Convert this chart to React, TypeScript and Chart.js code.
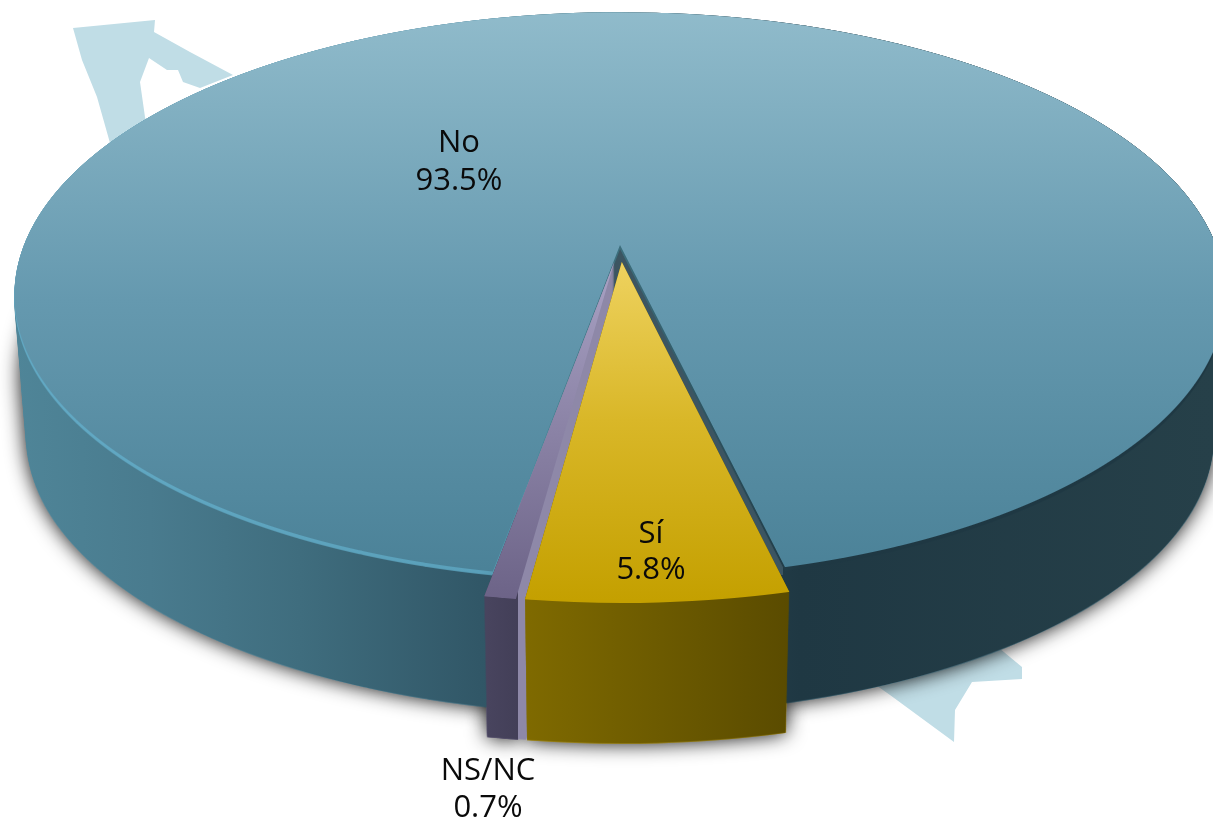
import React, { useEffect, useRef } from "react";
import { Chart, registerables } from "chart.js";

Chart.register(...registerables);

const categories = ["No", "Sí", "NS/NC"];
const shares = [93.5, 5.8, 0.7];
const pulledOut = [0, 0.0613, 0.0613];
const baseColors = ["#5f97ad", "#d4b020", "#6f6688"];

const W = 1213, H = 822, OFF_W = 1330;
// perspective of the tilted disc (unit circle -> screen)
const AX = 620, AY = 245, KX = 596, QY = 274, PY = -0.1767;
const DEPTH = 143, SHRINK = 0.02;
const extraDepth = [0, 5, 5];

type Stops = [number, string][];
const topStops: Stops[] = [
  [[12, "#90bbcb"], [300, "#6599af"], [580, "#4a8197"]],
  [[262, "#eed25f"], [420, "#d9b728"], [600, "#c4a000"]],
  [[262, "#a9a2c4"], [600, "#6c6387"]],
];
const wallStops: Stops[] = [
  [[15, "#4f8598"], [150, "#497b8e"], [300, "#3f6d7e"], [480, "#315767"], [620, "#2a4958"], [800, "#1f3843"], [1213, "#264049"]],
  [[525, "#7f6a00"], [790, "#5a4b00"]],
  [[487, "#48445e"], [517.5, "#433f58"], [518, "#8e88a8"], [700, "#8e88a8"]],
];
const rimStops: Stops = [[15, "#62a9c4"], [480, "#5aa0ba"], [560, "#46808f"], [800, "#1f3843"]];
const cutFace: Stops = [[0, "#3c5561"], [H, "#3c5561"]];
const sideFace: Stops = [[0, "#8e88a8"], [H, "#8e88a8"]];
const mapParts: number[][][] = [
  [[73, 28], [155, 20], [154, 32], [190, 52], [233, 75], [200, 88], [183, 82], [178, 70], [167, 70], [149, 58], [140, 82], [145, 117], [150, 135], [110, 150], [110, 143], [97, 97], [82, 60]],
  [[900, 640], [993, 643], [1022, 667], [1022, 679], [972, 682], [955, 710], [954, 742], [890, 695], [873, 683]],
];

function mk(): { c: HTMLCanvasElement; x: CanvasRenderingContext2D } {
  const c = document.createElement("canvas");
  c.width = OFF_W;
  c.height = H;
  return { c, x: c.getContext("2d") as CanvasRenderingContext2D };
}

function silhouette(el: any, pull: number): HTMLCanvasElement {
  const { c, x } = mk();
  const R = el.outerRadius;
  const mid = (el.startAngle + el.endAngle) / 2;
  for (let Y = 0; Y < H; Y++) {
    const yp = Y + 0.5 - AY;
    const y = yp / (QY - PY * yp);
    if (y < -1.15 || y > 1.2) continue;
    const w = 1 + PY * y;
    const sx = KX / (w * R);
    const sy = QY / (w * w * R);
    x.save();
    x.setTransform(1, 0, 0, 1, 0, 0);
    x.beginPath();
    x.rect(0, Y, OFF_W, 1);
    x.clip();
    x.setTransform(sx, 0, 0, sy, AX - sx * el.x, Y + 0.5 - sy * el.y - (QY / (w * w)) * y);
    x.translate(Math.cos(mid) * pull * R, Math.sin(mid) * pull * R);
    el.draw(x);
    x.restore();
  }
  return c;
}

function tint(src: HTMLCanvasElement, stops: Stops, vertical: boolean): HTMLCanvasElement {
  const { c, x } = mk();
  x.drawImage(src, 0, 0);
  const first = stops[0][0], last = stops[stops.length - 1][0];
  const g = vertical ? x.createLinearGradient(0, first, 0, last) : x.createLinearGradient(first, 0, last, 0);
  stops.forEach(([p, col]) => g.addColorStop((p - first) / (last - first), col));
  x.globalCompositeOperation = "source-in";
  x.fillStyle = g;
  x.fillRect(0, 0, OFF_W, H);
  return c;
}

function extrude(src: HTMLCanvasElement, from: number, to: number): HTMLCanvasElement {
  const { c, x } = mk();
  for (let d = to; d >= from; d--) {
    const s = 1 - (SHRINK * d) / DEPTH;
    x.setTransform(s, 0, 0, s, AX * (1 - s), AY * (1 - s) + d);
    x.drawImage(src, 0, 0);
  }
  return c;
}

const disc3d = {
  id: "disc3d",
  beforeDatasetsDraw(chart: any) {
    const ctx: CanvasRenderingContext2D = chart.ctx;
    const arcs = chart.getDatasetMeta(0).data;
    const masks = arcs.map((el: any, i: number) => silhouette(el, pulledOut[i]));
    const solids = masks.map((m: HTMLCanvasElement, i: number) => extrude(m, 0, DEPTH + extraDepth[i]));

    // background map
    ctx.save();
    ctx.fillStyle = "#c0dde6";
    mapParts.forEach((part) => {
      ctx.beginPath();
      part.forEach(([a, b], i) => (i ? ctx.lineTo(a, b) : ctx.moveTo(a, b)));
      ctx.closePath();
      ctx.fill();
    });
    ctx.restore();

    // soft shadow of the lower part of every piece
    ctx.save();
    ctx.shadowColor = "rgba(0,0,0,0.95)";
    ctx.shadowBlur = 20;
    masks.forEach((m: HTMLCanvasElement, i: number) => ctx.drawImage(extrude(m, DEPTH * 0.55, DEPTH + extraDepth[i]), 0, 0));
    ctx.restore();

    // main slice
    ctx.drawImage(tint(solids[0], wallStops[0], false), 0, 0);
    ctx.save();
    ctx.beginPath();
    ctx.rect(600, 240, 183, 335);
    ctx.clip();
    ctx.drawImage(tint(solids[0], cutFace, true), 0, 0);
    ctx.restore();
    ctx.drawImage(tint(extrude(masks[0], 0, 4), rimStops, false), 0, 0);
    ctx.drawImage(tint(masks[0], topStops[0], true), 0, 0);

    // lighter cut face of the small slice, carried down its side
    ctx.save();
    ctx.beginPath();
    ctx.rect(0, 600, W, H - 600);
    ctx.clip();
    ctx.drawImage(tint(solids[2], sideFace, true), 8, 0);
    ctx.restore();
    ctx.drawImage(tint(solids[2], wallStops[2], false), 0, 0);
    ctx.drawImage(tint(masks[2], topStops[2], true), 0, 0);

    // Sí slice
    ctx.drawImage(tint(solids[1], wallStops[1], false), 0, 0);
    ctx.drawImage(tint(masks[1], topStops[1], true), 0, 0);
    return false;
  },
  afterDraw(chart: any) {
    const ctx: CanvasRenderingContext2D = chart.ctx;
    const anchors = [[459, 143, 181], [651, 534, 570], [488, 771, 808]];
    ctx.save();
    ctx.fillStyle = "#0a0a0a";
    ctx.font = '31px "Open Sans"';
    ctx.textAlign = "center";
    ctx.textBaseline = "middle";
    categories.forEach((name, i) => {
      ctx.fillText(name, anchors[i][0], anchors[i][1]);
      ctx.fillText(shares[i].toFixed(1) + "%", anchors[i][0], anchors[i][2]);
    });
    ctx.restore();
  },
};

export default function App() {
  const ref = useRef<HTMLCanvasElement>(null);
  useEffect(() => {
    const chart = new Chart(ref.current as HTMLCanvasElement, {
      type: "pie",
      data: {
        labels: categories,
        datasets: [{ data: shares, backgroundColor: baseColors, borderWidth: 0 }],
      },
      options: {
        responsive: false,
        animation: false,
        rotation: 190.15,
        layout: { padding: 0 },
        plugins: { legend: { display: false }, tooltip: { enabled: false } },
      },
      plugins: [disc3d],
    } as any);
    return () => chart.destroy();
  }, []);
  return <canvas ref={ref} width={W} height={H} style={{ position: "fixed", left: 0, top: 0, display: "block" }} />;
}
